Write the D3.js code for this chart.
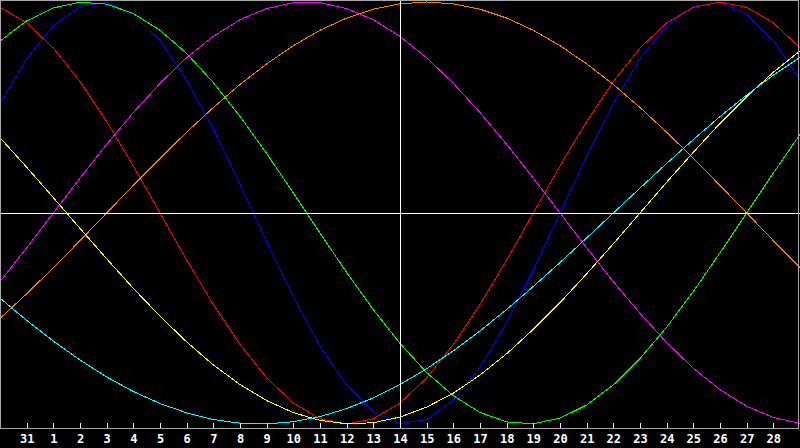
<!DOCTYPE html>
<html>
<head>
<meta charset="utf-8">
<script src="https://cdn.jsdelivr.net/npm/d3@7"></script>
<style>
  html, body { margin: 0; padding: 0; background: #000; }
  svg { display: block; }
</style>
</head>
<body>
<div id="chart"></div>
<script>
// Day index 0..30 (Jan 30 .. Mar 1)
const days = d3.range(0, 31);

// Tick labels, placed on day index 1..29
const tickLabels = ["31", "1", "2", "3", "4", "5", "6", "7", "8", "9", "10", "11", "12", "13", "14",
    "15", "16", "17", "18", "19", "20", "21", "22", "23", "24", "25", "26", "27", "28"];

// Curve values, -1 .. 1 per day
const physical = [0.520, 0.731, 0.888, 0.979, 0.998, 0.942, 0.817, 0.631, 0.398, 0.136,
    -0.136, -0.398, -0.631, -0.817, -0.942, -0.998, -0.979, -0.888, -0.731, -0.520,
    -0.270, 0.000, 0.270, 0.520, 0.731, 0.888, 0.979, 0.998, 0.942, 0.817, 0.631];
const emotional = [0.975, 0.901, 0.782, 0.623, 0.434, 0.223, 0.000, -0.223, -0.434, -0.623,
    -0.782, -0.901, -0.975, -1.000, -0.975, -0.901, -0.782, -0.623, -0.434, -0.223,
    0.000, 0.223, 0.434, 0.623, 0.782, 0.901, 0.975, 1.000, 0.975, 0.901, 0.782];
const intellectual = [0.815, 0.910, 0.972, 0.999, 0.990, 0.945, 0.866, 0.756, 0.618, 0.458,
    0.282, 0.095, -0.095, -0.282, -0.458, -0.618, -0.756, -0.866, -0.945, -0.990,
    -0.999, -0.972, -0.910, -0.815, -0.690, -0.541, -0.372, -0.189, 0.000, 0.189, 0.372];
const intuitive = [-0.325, -0.165, 0.000, 0.165, 0.325, 0.476, 0.614, 0.736, 0.837, 0.916,
    0.969, 0.997, 0.997, 0.969, 0.916, 0.837, 0.736, 0.614, 0.476, 0.325,
    0.165, 0.000, -0.165, -0.325, -0.476, -0.614, -0.736, -0.837, -0.916, -0.969, -0.997];
const aesthetic = [-0.500, -0.383, -0.259, -0.131, 0.000, 0.131, 0.259, 0.383, 0.500, 0.609,
    0.707, 0.793, 0.866, 0.924, 0.966, 0.991, 1.000, 0.991, 0.966, 0.924,
    0.866, 0.793, 0.707, 0.609, 0.500, 0.383, 0.259, 0.131, 0.000, -0.131, -0.259];
const awareness = [0.357, 0.217, 0.073, -0.073, -0.217, -0.357, -0.489, -0.611, -0.720, -0.813,
    -0.889, -0.946, -0.983, -0.999, -0.994, -0.967, -0.920, -0.854, -0.768, -0.667,
    -0.551, -0.425, -0.288, -0.146, 0.000, 0.146, 0.288, 0.425, 0.551, 0.667, 0.768];
const spiritual = [-0.403, -0.509, -0.607, -0.697, -0.777, -0.846, -0.903, -0.947, -0.979, -0.996,
    -1.000, -0.989, -0.965, -0.927, -0.876, -0.813, -0.738, -0.653, -0.559, -0.457,
    -0.348, -0.235, -0.118, 0.000, 0.118, 0.235, 0.348, 0.457, 0.559, 0.653, 0.738];

const seriesNames = ["physical", "emotional", "intellectual", "intuitive", "aesthetic", "awareness", "spiritual"];
const seriesValues = [physical, emotional, intellectual, intuitive, aesthetic, awareness, spiritual];
const seriesColors = ["#0000ff", "#ff0000", "#00ff00", "#ff00ff", "#ff8000", "#ffff00", "#00ffff"];

const width = 800;
const height = 448;
const plotBottom = 428;

const svg = d3.select("#chart")
    .append("svg")
    .attr("width", width)
    .attr("height", height)
    .style("background", "#000");

const x = d3.scaleLinear().domain([0, 30]).range([0, 800]);
const y = d3.scaleLinear().domain([-1, 1]).range([424, 2]);

svg.append("clipPath")
    .attr("id", "plot-clip")
    .append("rect")
    .attr("x", 0).attr("y", 0)
    .attr("width", 800).attr("height", plotBottom);

// Curves
const line = d3.line()
    .x((d, i) => x(days[i]))
    .y(d => y(d));

svg.append("g")
    .attr("clip-path", "url(#plot-clip)")
    .selectAll("path")
    .data(seriesValues)
    .enter()
    .append("path")
    .attr("class", (d, i) => seriesNames[i])
    .attr("d", line)
    .attr("fill", "none")
    .attr("stroke", (d, i) => seriesColors[i])
    .attr("stroke-width", 1)
    .attr("shape-rendering", "crispEdges");

// Cross hair at today (day index 15) and zero
svg.append("line")
    .attr("x1", x(15) + 0.5).attr("x2", x(15) + 0.5)
    .attr("y1", 0).attr("y2", plotBottom)
    .attr("stroke", "#fff")
    .attr("shape-rendering", "crispEdges");

svg.append("line")
    .attr("x1", 0).attr("x2", 800)
    .attr("y1", Math.round(y(0)) + 0.5).attr("y2", Math.round(y(0)) + 0.5)
    .attr("stroke", "#fff")
    .attr("shape-rendering", "crispEdges");

// Frame
svg.append("rect")
    .attr("x", 0.5).attr("y", 0.5)
    .attr("width", 798).attr("height", plotBottom)
    .attr("fill", "none")
    .attr("stroke", "#a8a8a8")
    .attr("shape-rendering", "crispEdges");

// Bottom axis
const axis = d3.axisBottom(x)
    .tickValues(d3.range(1, 30))
    .tickFormat((d, i) => tickLabels[i])
    .tickSize(5)
    .tickSizeOuter(0);

const gx = svg.append("g")
    .attr("transform", `translate(0,${plotBottom - 5})`)
    .call(axis);

gx.select(".domain").remove();
gx.selectAll(".tick line")
    .attr("stroke", "#e8e8e8")
    .attr("shape-rendering", "crispEdges");
gx.selectAll(".tick text")
    .attr("fill", "#fff")
    .attr("y", 20)
    .attr("dy", "0")
    .style("font-family", "'DejaVu Sans Mono', monospace")
    .style("font-weight", "bold")
    .style("font-size", "12px");
</script>
</body>
</html>
